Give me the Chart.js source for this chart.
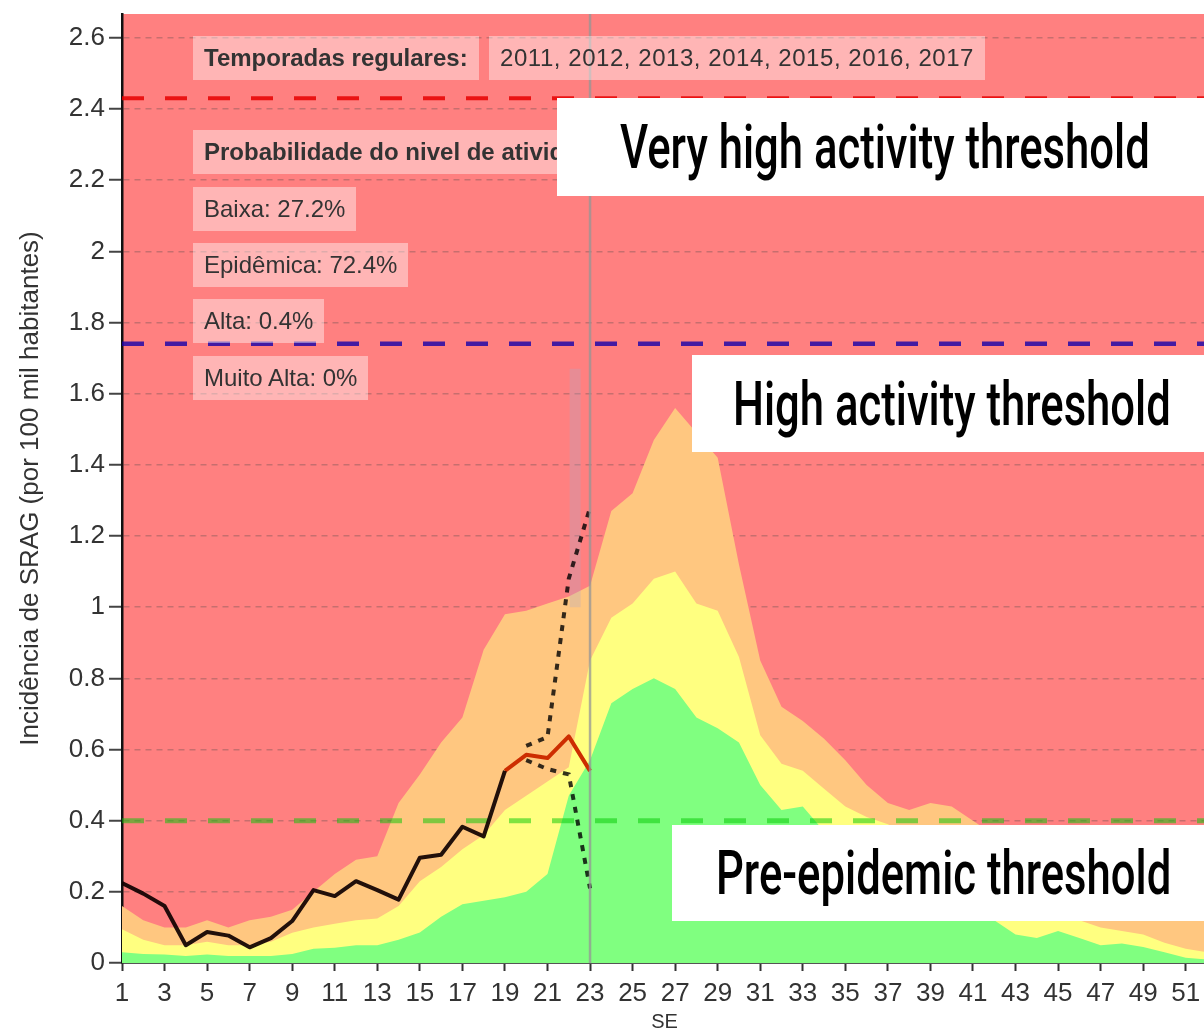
<!DOCTYPE html>
<html>
<head>
<meta charset="utf-8">
<script src="https://cdn.jsdelivr.net/npm/chart.js@4.4.1/dist/chart.umd.min.js"></script>
<style>
    body { margin: 0; background: #fff; width: 1204px; height: 1035px; overflow: hidden; position: relative; font-family: "Liberation Sans", Arial, sans-serif; }
    #chart { position: absolute; left: 0; top: 0; }
    .tag { position: absolute; left: 193px; height: 44px; line-height: 44px; padding: 0 11px; background: rgba(255,255,255,0.42); color: #333; font-size: 24px; white-space: nowrap; }
    .tag.bold { font-weight: bold; }
    .note { position: absolute; right: 0; background: #fff; display: flex; align-items: center; overflow: hidden; }
    .note span { font-family: Roboto, sans-serif; font-weight: 500; font-size: 62px; line-height: 1; color: #000; white-space: nowrap; transform: scaleX(0.704); transform-origin: left center; }
</style>
</head>
<body>
<canvas id="chart" width="1212" height="1035"></canvas>

<div class="tag bold" style="top:36px">Temporadas regulares:</div>
<div class="tag" style="top:36px; left:489px; letter-spacing:0.55px">2011, 2012, 2013, 2014, 2015, 2016, 2017</div>
<div class="tag bold" style="top:130px">Probabilidade do nivel de atividade:</div>
<div class="tag" style="top:187px">Baixa: 27.2%</div>
<div class="tag" style="top:243px">Epidêmica: 72.4%</div>
<div class="tag" style="top:299px">Alta: 0.4%</div>
<div class="tag" style="top:356px">Muito Alta: 0%</div>

<div class="note" style="left:557px; top:98px; height:98px"><span style="margin-left:63px">Very high activity threshold</span></div>
<div class="note" style="left:692px; top:355px; height:97px"><span style="margin-left:41px">High activity threshold</span></div>
<div class="note" style="left:672px; top:825px; height:96px"><span style="margin-left:44px">Pre-epidemic threshold</span></div>

<script>
// epidemiological weeks (SE) 1..52
const weeks = [...Array(52).keys()].map(i => i + 1);
const xTickWeeks = [1, 3, 5, 7, 9, 11, 13, 15, 17, 19, 21, 23, 25, 27, 29, 31, 33, 35, 37, 39, 41, 43, 45, 47, 49, 51];
const yTickValues = [0, 0.2, 0.4, 0.6, 0.8, 1, 1.2, 1.4, 1.6, 1.8, 2, 2.2, 2.4, 2.6];

// upper edge of each typical-season band, weeks 1..52
const greenBand = [0.03, 0.025, 0.024, 0.02, 0.024, 0.02, 0.02, 0.02, 0.025, 0.04,
    0.043, 0.05, 0.05, 0.065, 0.086, 0.13, 0.165, 0.175, 0.185, 0.2,
    0.25, 0.47, 0.57, 0.73, 0.77, 0.8, 0.77, 0.69, 0.66, 0.62,
    0.5, 0.43, 0.44, 0.37, 0.34, 0.31, 0.28, 0.25, 0.22, 0.19,
    0.16, 0.12, 0.08, 0.07, 0.09, 0.07, 0.05, 0.055, 0.045, 0.03,
    0.015, 0.01];
const yellowBand = [0.095, 0.065, 0.05, 0.05, 0.06, 0.05, 0.05, 0.06, 0.085, 0.1,
    0.11, 0.12, 0.125, 0.16, 0.23, 0.27, 0.32, 0.36, 0.43, 0.47,
    0.51, 0.55, 0.85, 0.97, 1.01, 1.08, 1.1, 1.01, 0.99, 0.86,
    0.64, 0.56, 0.54, 0.49, 0.44, 0.41, 0.39, 0.36, 0.33, 0.3,
    0.26, 0.22, 0.19, 0.16, 0.14, 0.12, 0.1, 0.09, 0.08, 0.057,
    0.04, 0.03];
const orangeBand = [0.16, 0.12, 0.1, 0.1, 0.12, 0.1, 0.12, 0.13, 0.15, 0.2,
    0.25, 0.29, 0.3, 0.45, 0.53, 0.62, 0.69, 0.88, 0.98, 0.99,
    1.01, 1.03, 1.06, 1.27, 1.32, 1.47, 1.56, 1.49, 1.42, 1.12,
    0.85, 0.72, 0.68, 0.63, 0.57, 0.5, 0.45, 0.43, 0.45, 0.44,
    0.4, 0.36, 0.32, 0.28, 0.25, 0.23, 0.21, 0.19, 0.17, 0.16,
    0.15, 0.14];

// observed incidence, weeks 1..19
const observed = [0.225, 0.195, 0.16, 0.05, 0.087, 0.077, 0.044, 0.07, 0.118, 0.205,
    0.188, 0.23, 0.205, 0.178, 0.296, 0.304, 0.383, 0.356, 0.54];
// nowcast estimate, weeks 19..23, and its interval, weeks 20..23
const estimate = [0.54, 0.585, 0.576, 0.637, 0.54];
const ciUpper = [0.61, 0.635, 1.08, 1.28];
const ciLower = [0.57, 0.545, 0.53, 0.21];

// thresholds
const preEpidemic = 0.40;
const highActivity = 1.74;
const veryHighActivity = 2.43;

const currentWeek = 23;
const greyBarWeek = 22.3;
const greyBarRange = [1.0, 1.67];

const colors = {
    red: 'rgb(255,128,128)',
    orange: 'rgb(255,199,128)',
    yellow: 'rgb(255,255,128)',
    green: 'rgb(128,255,128)'
};

function toPoints(values, firstWeek) {
    return values.map((v, i) => ({x: firstWeek + i, y: v}));
}

function band(label, values, color, order) {
    return {
        label: label,
        data: toPoints(values, 1),
        backgroundColor: color,
        borderWidth: 0,
        pointRadius: 0,
        fill: 'origin',
        order: order
    };
}

function threshold(value, color, width) {
    return {
        data: weeks.map(w => ({x: w, y: value})),
        borderColor: color,
        borderWidth: width,
        borderDash: [22, 21],
        pointRadius: 0,
        fill: false,
        order: 5
    };
}

// red area above the bands
const bandBackground = {
    id: 'bandBackground',
    beforeDraw(chart) {
        const {ctx, chartArea} = chart;
        ctx.save();
        ctx.fillStyle = colors.red;
        ctx.fillRect(chartArea.left, chartArea.top, chartArea.right - chartArea.left, chartArea.bottom - chartArea.top);
        ctx.restore();
    }
};

// grey line at the current week
const weekMarker = {
    id: 'weekMarker',
    afterDatasetsDraw(chart) {
        const {ctx, chartArea} = chart;
        const x = chart.scales.x.getPixelForValue(currentWeek);
        ctx.save();
        ctx.strokeStyle = 'rgba(150,150,150,0.75)';
        ctx.lineWidth = 2.5;
        ctx.beginPath();
        ctx.moveTo(x, chartArea.top);
        ctx.lineTo(x, chartArea.bottom);
        ctx.stroke();
        ctx.restore();
    }
};

new Chart(document.getElementById('chart'), {
    type: 'line',
    data: {
        datasets: [
            {
                data: toPoints(observed, 1),
                borderColor: 'rgba(15,0,0,0.92)',
                borderWidth: 4,
                pointRadius: 0,
                borderJoinStyle: 'round',
                fill: false,
                order: 1
            },
            {
                data: toPoints(estimate, 19),
                borderColor: 'rgb(205,45,0)',
                borderWidth: 4,
                pointRadius: 0,
                borderJoinStyle: 'round',
                fill: false,
                order: 2
            },
            {
                data: toPoints(ciUpper, 20),
                borderColor: 'rgba(0,0,0,0.8)',
                borderWidth: 4,
                borderDash: [6, 7],
                pointRadius: 0,
                fill: false,
                order: 3
            },
            {
                data: toPoints(ciLower, 20),
                borderColor: 'rgba(0,0,0,0.8)',
                borderWidth: 4,
                borderDash: [6, 7],
                pointRadius: 0,
                fill: false,
                order: 3
            },
            {
                data: greyBarRange.map(v => ({x: greyBarWeek, y: v})),
                borderColor: 'rgba(175,170,200,0.3)',
                borderWidth: 11,
                pointRadius: 0,
                fill: false,
                order: 4
            },
            threshold(veryHighActivity, 'rgba(230,0,0,0.85)', 4),
            threshold(highActivity, 'rgba(20,0,170,0.8)', 4.5),
            threshold(preEpidemic, 'rgba(0,200,0,0.5)', 5),
            band('green', greenBand, colors.green, 10),
            band('yellow', yellowBand, colors.yellow, 11),
            band('orange', orangeBand, colors.orange, 12)
        ]
    },
    options: {
        responsive: false,
        animation: false,
        layout: {padding: {top: 14, right: 5, left: 0, bottom: 0}},
        plugins: {
            legend: {display: false},
            tooltip: {enabled: false}
        },
        scales: {
            x: {
                type: 'linear',
                min: 1,
                max: 52,
                afterBuildTicks: scale => { scale.ticks = xTickWeeks.map(v => ({value: v})); },
                afterFit: scale => { scale.height = 72; scale.paddingLeft = 0; scale.paddingRight = 0; },
                grid: {drawOnChartArea: false, tickLength: 8, tickColor: '#333', tickWidth: 2},
                border: {color: '#555', width: 2},
                ticks: {
                    color: '#333',
                    padding: 7,
                    maxRotation: 0,
                    autoSkip: false,
                    font: {family: '"Liberation Sans", Arial, sans-serif', size: 26}
                },
                title: {
                    display: true,
                    text: 'SE',
                    color: '#333',
                    padding: {top: 0, bottom: 1},
                    font: {family: '"Liberation Sans", Arial, sans-serif', size: 20}
                }
            },
            y: {
                min: 0,
                max: 2.667,
                z: 1,
                afterBuildTicks: scale => { scale.ticks = yTickValues.map(v => ({value: v})); },
                afterFit: scale => { scale.width = 122; scale.paddingTop = 0; scale.paddingBottom = 0; },
                grid: {color: 'rgba(70,70,70,0.3)', lineWidth: 1.5, tickLength: 13, tickColor: '#444', tickWidth: 2},
                border: {color: '#111', width: 2.5, dash: [6, 5]},
                ticks: {
                    color: '#333',
                    padding: 4,
                    font: {family: '"Liberation Sans", Arial, sans-serif', size: 26},
                    callback: v => String(parseFloat(v.toFixed(1)))
                },
                title: {
                    display: true,
                    text: 'Incidência de SRAG (por 100 mil habitantes)',
                    color: '#333',
                    padding: {top: 15, bottom: 0},
                    font: {family: '"Liberation Sans", Arial, sans-serif', size: 26}
                }
            }
        }
    },
    plugins: [bandBackground, weekMarker]
});
</script>
</body>
</html>
